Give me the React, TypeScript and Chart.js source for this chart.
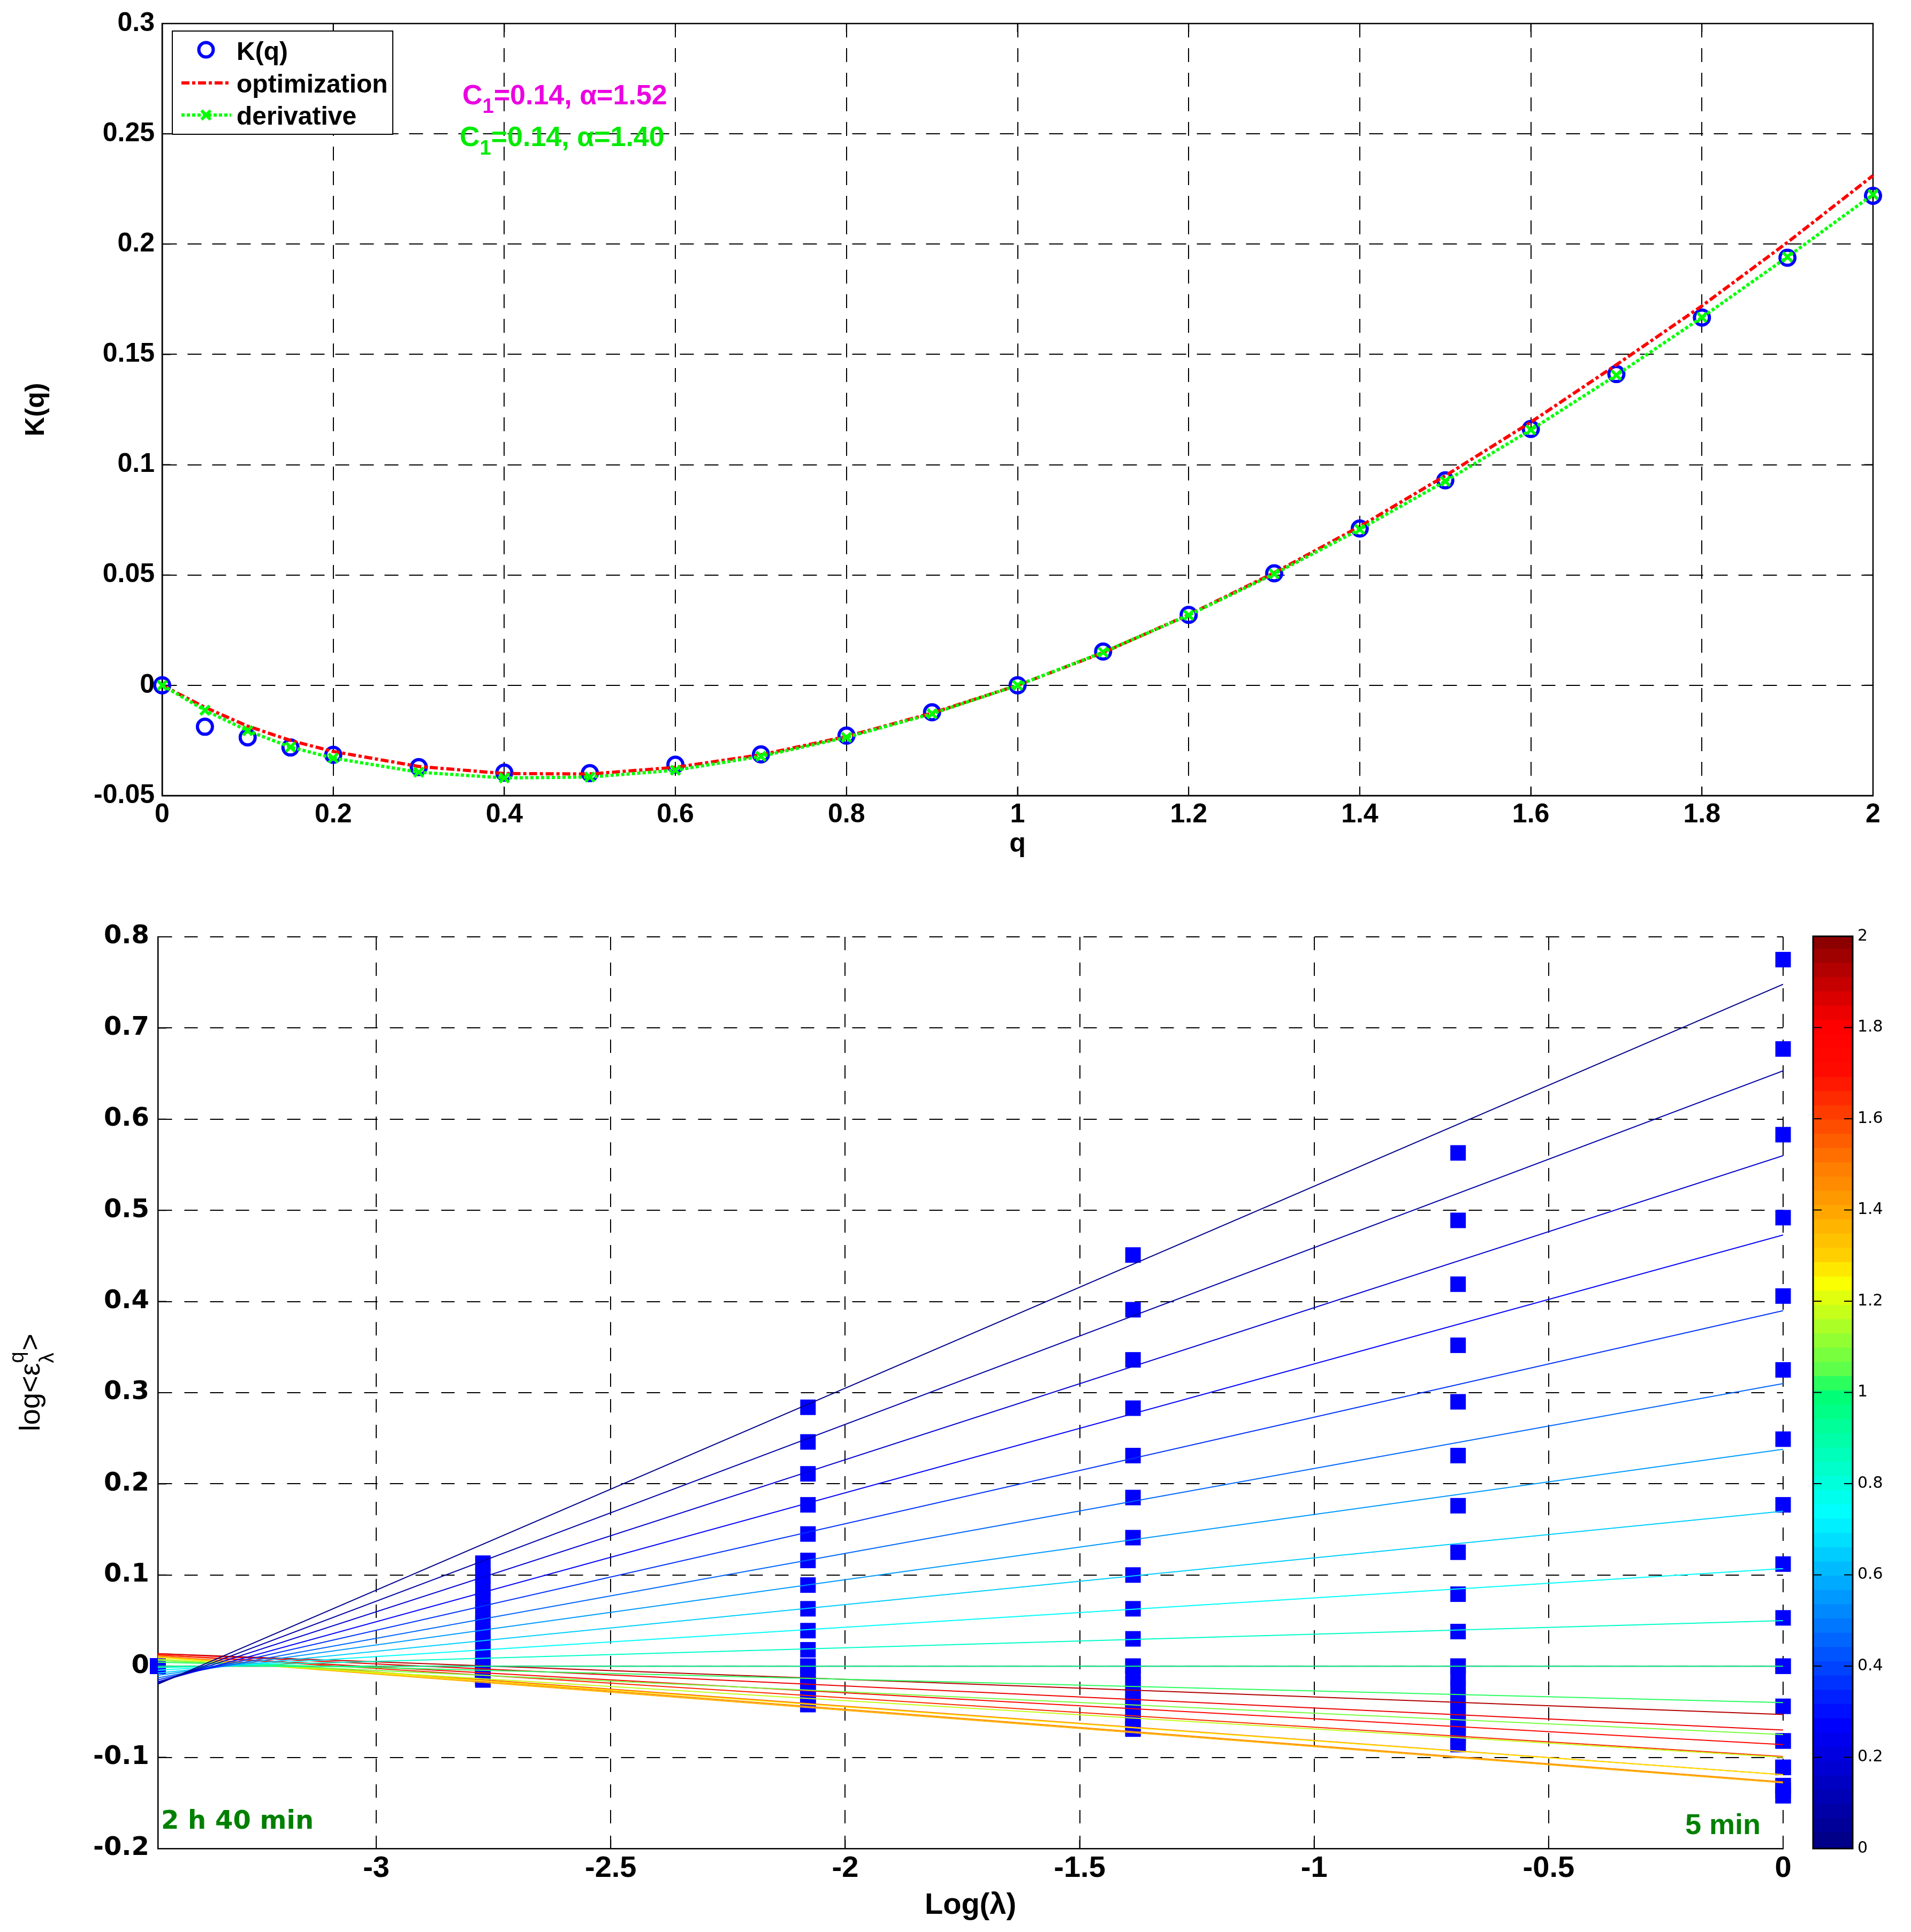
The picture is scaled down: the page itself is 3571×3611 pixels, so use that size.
import React, { useEffect, useRef } from 'react';
import { Chart, registerables } from 'chart.js';

Chart.register(...registerables);

// ---------------- Top panel: K(q) ----------------
const qValues = [0, 0.05, 0.1, 0.15, 0.2, 0.3, 0.4, 0.5, 0.6, 0.7, 0.8, 0.9, 1.0, 1.1, 1.2, 1.3, 1.4, 1.5, 1.6, 1.7, 1.8, 1.9, 2.0];
const kMeasured = [0, -0.0188, -0.0236, -0.0282, -0.0315, -0.0371, -0.0396, -0.0398, -0.036, -0.0313, -0.0228, -0.0122, 0, 0.0153, 0.0319, 0.0508, 0.0711, 0.0929, 0.1162, 0.1411, 0.1667, 0.1938, 0.2219];
const kOptimization = [0, -0.01, -0.0185, -0.025, -0.03, -0.0368, -0.04, -0.0402, -0.0372, -0.0315, -0.0232, -0.0126, 0, 0.0148, 0.032, 0.051, 0.072, 0.095, 0.1193, 0.1453, 0.172, 0.2008, 0.2311];
const kDerivative = [0, -0.0113, -0.0206, -0.028, -0.033, -0.0394, -0.042, -0.0416, -0.0385, -0.0322, -0.0236, -0.0129, 0, 0.015, 0.0318, 0.0505, 0.0707, 0.0925, 0.1158, 0.1406, 0.1668, 0.1942, 0.2225];

const topXTicks = [0, 0.2, 0.4, 0.6, 0.8, 1, 1.2, 1.4, 1.6, 1.8, 2];
const topXTickLabels = ['0', '0.2', '0.4', '0.6', '0.8', '1', '1.2', '1.4', '1.6', '1.8', '2'];
const topYTicks = [-0.05, 0, 0.05, 0.1, 0.15, 0.2, 0.25, 0.3];
const topYTickLabels = ['-0.05', '0', '0.05', '0.1', '0.15', '0.2', '0.25', '0.3'];

// ---------------- Bottom panel: moments vs scale ----------------
const logLambda = [-3.4657, -2.7726, -2.0794, -1.3863, -0.6931, 0];
// one array per scale column, values listed in qValues order
const momentsCol1 = [0, 0, 0, 0, 0, 0, 0, 0, 0, 0, 0, 0, 0, 0, 0, 0, 0, 0, 0, 0, 0, 0, 0];
const momentsCol2 = [0, -0.004, -0.007, -0.009, -0.011, -0.013, -0.015, -0.015, -0.013, -0.01, -0.006, -0.003, 0, 0.007, 0.016, 0.026, 0.036, 0.047, 0.059, 0.072, 0.085, 0.099, 0.113];
const momentsCol3 = [0, -0.012, -0.019, -0.025, -0.031, -0.038, -0.042, -0.042, -0.038, -0.03, -0.02, -0.008, 0, 0.018, 0.039, 0.063, 0.089, 0.116, 0.145, 0.177, 0.211, 0.246, 0.284];
const momentsCol4 = [0, -0.019, -0.03, -0.04, -0.05, -0.061, -0.068, -0.069, -0.062, -0.049, -0.033, -0.013, 0, 0.03, 0.063, 0.1, 0.141, 0.185, 0.231, 0.283, 0.336, 0.391, 0.451];
const momentsCol5 = [0, -0.024, -0.038, -0.05, -0.062, -0.076, -0.085, -0.086, -0.078, -0.063, -0.043, -0.013, 0, 0.038, 0.079, 0.125, 0.176, 0.231, 0.29, 0.352, 0.419, 0.489, 0.563];
const momentsCol6 = [0, -0.082, -0.111, -0.111, -0.131, -0.136, -0.142, -0.142, -0.131, -0.111, -0.082, -0.044, 0, 0.053, 0.112, 0.177, 0.249, 0.325, 0.406, 0.492, 0.583, 0.677, 0.775];
const momentColumns = [momentsCol1, momentsCol2, momentsCol3, momentsCol4, momentsCol5, momentsCol6];

// fitted regression lines: value at the coarsest scale and at the finest scale
const fitAtLeft = [0, 0.0137, 0.0137, 0.0125, 0.0125, 0.0111, 0.0111, 0.0098, 0.0098, 0.0078, 0.0063, 0.0043, 0, -0.0016, -0.0045, -0.0075, -0.01, -0.0128, -0.015, -0.017, -0.018, -0.019, -0.0197];
const fitAtRight = [0, -0.053, -0.07, -0.086, -0.099, -0.119, -0.127, -0.128, -0.119, -0.1, -0.075, -0.04, 0, 0.05, 0.107, 0.17, 0.238, 0.31, 0.39, 0.473, 0.56, 0.653, 0.748];
const lineColorLevel = [2.0, 1.909, 1.818, 1.727, 1.636, 1.545, 1.455, 1.364, 1.273, 1.182, 1.091, 1.0, 0.909, 0.818, 0.727, 0.636, 0.545, 0.455, 0.364, 0.273, 0.182, 0.091, 0];

const botXTicks = [-3, -2.5, -2, -1.5, -1, -0.5, 0];
const botXTickLabels = ['-3', '-2.5', '-2', '-1.5', '-1', '-0.5', '0'];
const botYTicks = [-0.2, -0.1, 0, 0.1, 0.2, 0.3, 0.4, 0.5, 0.6, 0.7, 0.8];
const botYTickLabels = ['-0.2', '-0.1', '0', '0.1', '0.2', '0.3', '0.4', '0.5', '0.6', '0.7', '0.8'];

const cbTicks = [0, 0.2, 0.4, 0.6, 0.8, 1, 1.2, 1.4, 1.6, 1.8, 2];
const cbTickLabels = ['0', '0.2', '0.4', '0.6', '0.8', '1', '1.2', '1.4', '1.6', '1.8', '2'];
const cmapStops = [
  [0, 0, 0, 130],
  [0.27, 0, 0, 255],
  [0.73, 0, 255, 255],
  [1.0, 0, 255, 110],
  [1.03, 80, 255, 80],
  [1.24, 255, 255, 0],
  [1.29, 255, 210, 0],
  [1.5, 255, 120, 0],
  [1.7, 255, 10, 0],
  [1.8, 255, 0, 0],
  [2.0, 130, 0, 0],
];
const cmapBands = 64;

const FONT_SANS = '"Liberation Sans", Arial, Helvetica, sans-serif';
const FONT_WIDE = '"DejaVu Sans", Verdana, sans-serif';

function interpColor(v: number): string {
  for (let i = 0; i < cmapStops.length - 1; i++) {
    const a = cmapStops[i];
    const b = cmapStops[i + 1];
    if (v >= a[0] && v <= b[0]) {
      const t = (v - a[0]) / (b[0] - a[0]);
      const r = Math.round(a[1] + (b[1] - a[1]) * t);
      const g = Math.round(a[2] + (b[2] - a[2]) * t);
      const bl = Math.round(a[3] + (b[3] - a[3]) * t);
      return `rgb(${r},${g},${bl})`;
    }
  }
  const l = cmapStops[cmapStops.length - 1];
  return `rgb(${l[1]},${l[2]},${l[3]})`;
}
function bandColor(v: number): string {
  const band = Math.min(cmapBands - 1, Math.max(0, Math.floor((v / 2) * cmapBands)));
  return interpColor(((band + 0.5) * 2) / cmapBands);
}

const topDecor = {
  id: 'topDecor',
  beforeDatasetsDraw(chart: any) {
    const { ctx, chartArea: a, scales } = chart;
    ctx.save();
    ctx.setLineDash([]);
    ctx.strokeStyle = '#000';
    ctx.lineWidth = 2.5;
    ctx.strokeRect(a.left, a.top, a.right - a.left, a.bottom - a.top);
    ctx.lineWidth = 2;
    ctx.beginPath();
    for (const v of topXTicks) {
      const px = scales.x.getPixelForValue(v);
      ctx.moveTo(px, a.bottom);
      ctx.lineTo(px, a.bottom - 16);
      ctx.moveTo(px, a.top);
      ctx.lineTo(px, a.top + 16);
    }
    for (const v of topYTicks) {
      const py = scales.y.getPixelForValue(v);
      ctx.moveTo(a.left, py);
      ctx.lineTo(a.left + 16, py);
      ctx.moveTo(a.right, py);
      ctx.lineTo(a.right - 16, py);
    }
    ctx.stroke();
    ctx.restore();
  },
  afterDraw(chart: any) {
    const { ctx, chartArea: a } = chart;
    ctx.save();
    ctx.fillStyle = '#000';
    ctx.textBaseline = 'alphabetic';
    // axis titles
    ctx.font = `bold 50px ${FONT_SANS}`;
    ctx.textAlign = 'center';
    ctx.fillText('q', (a.left + a.right) / 2, 1592);
    ctx.save();
    ctx.translate(82, (a.top + a.bottom) / 2);
    ctx.rotate(-Math.PI / 2);
    ctx.fillText('K(q)', 0, 0);
    ctx.restore();

    // legend
    const lx = 322, ly = 58, lw = 412, lh = 193;
    ctx.fillStyle = '#fff';
    ctx.fillRect(lx, ly, lw, lh);
    ctx.strokeStyle = '#000';
    ctx.lineWidth = 2;
    ctx.setLineDash([]);
    ctx.strokeRect(lx, ly, lw, lh);
    // row 1: circle
    ctx.strokeStyle = '#0000ff';
    ctx.lineWidth = 6;
    ctx.beginPath();
    ctx.arc(385, 93, 13.5, 0, Math.PI * 2);
    ctx.stroke();
    // row 2: dash-dot red
    ctx.strokeStyle = '#ff0000';
    ctx.setLineDash([15, 5, 6, 5]);
    ctx.beginPath();
    ctx.moveTo(339, 155);
    ctx.lineTo(432, 155);
    ctx.stroke();
    // row 3: dotted green with x
    ctx.strokeStyle = '#00ff00';
    ctx.setLineDash([6, 4]);
    ctx.beginPath();
    ctx.moveTo(339, 215);
    ctx.lineTo(432, 215);
    ctx.stroke();
    ctx.setLineDash([]);
    ctx.beginPath();
    ctx.moveTo(385 - 8.5, 215 - 8.5);
    ctx.lineTo(385 + 8.5, 215 + 8.5);
    ctx.moveTo(385 + 8.5, 215 - 8.5);
    ctx.lineTo(385 - 8.5, 215 + 8.5);
    ctx.stroke();
    ctx.fillStyle = '#000';
    ctx.textAlign = 'left';
    ctx.font = `bold 48px ${FONT_SANS}`;
    ctx.fillText('K(q)', 442, 112);
    ctx.fillText('optimization', 442, 173);
    ctx.fillText('derivative', 442, 233);

    // annotations
    const drawParam = (x: number, base: number, color: string, rest: string) => {
      ctx.fillStyle = color;
      ctx.font = `bold 52px ${FONT_SANS}`;
      ctx.fillText('C', x, base);
      let cx = x + ctx.measureText('C').width;
      ctx.font = `bold 38px ${FONT_SANS}`;
      ctx.fillText('1', cx, base + 16);
      cx += ctx.measureText('1').width;
      ctx.font = `bold 52px ${FONT_SANS}`;
      ctx.fillText(rest, cx, base);
    };
    drawParam(864, 195, 'rgb(235,0,225)', '=0.14, \u03b1=1.52');
    drawParam(859, 273, 'rgb(0,235,0)', '=0.14, \u03b1=1.40');
    ctx.restore();
  },
};

const bottomDecor = {
  id: 'bottomDecor',
  beforeDatasetsDraw(chart: any) {
    const { ctx, chartArea: a, scales } = chart;
    ctx.save();
    ctx.setLineDash([]);
    ctx.strokeStyle = '#000';
    ctx.lineWidth = 2;
    ctx.beginPath();
    for (const v of botXTicks) {
      const px = scales.x.getPixelForValue(v);
      ctx.moveTo(px, a.bottom);
      ctx.lineTo(px, a.bottom - 16);
    }
    for (const v of botYTicks) {
      const py = scales.y.getPixelForValue(v);
      ctx.moveTo(a.left, py);
      ctx.lineTo(a.left + 16, py);
    }
    ctx.stroke();
    ctx.restore();
  },
  afterDraw(chart: any) {
    const { ctx, chartArea: a } = chart;
    ctx.save();
    ctx.textBaseline = 'alphabetic';
    ctx.fillStyle = '#000';
    ctx.font = `bold 56px ${FONT_SANS}`;
    ctx.textAlign = 'center';
    ctx.fillText('Log(\u03bb)', (a.left + a.right) / 2, 1877);

    // rotated y label  log<eps^q_lambda>
    ctx.save();
    ctx.translate(74, 884);
    ctx.rotate(-Math.PI / 2);
    ctx.textAlign = 'left';
    const mainF = `54px ${FONT_SANS}`;
    const smallF = `38px ${FONT_SANS}`;
    ctx.font = mainF;
    const w1 = ctx.measureText('log<\u03b5').width;
    const w3 = ctx.measureText('>').width;
    ctx.font = smallF;
    const ws = Math.max(ctx.measureText('q').width, ctx.measureText('\u03bb').width) + 2;
    let x = -(w1 + ws + w3) / 2;
    ctx.font = mainF;
    ctx.fillText('log<\u03b5', x, 0);
    x += w1;
    ctx.font = smallF;
    ctx.fillText('q', x, -30);
    ctx.fillText('\u03bb', x, 26);
    x += ws;
    ctx.font = mainF;
    ctx.fillText('>', x, 0);
    ctx.restore();

    // scale annotations
    ctx.fillStyle = '#008000';
    ctx.textAlign = 'left';
    ctx.font = `bold 48px ${FONT_WIDE}`;
    ctx.fillText('2 h 40 min', 301, 1718);
    ctx.textAlign = 'right';
    ctx.font = `bold 54px ${FONT_SANS}`;
    ctx.fillText('5 min', 3290, 1728);
    ctx.restore();
  },
};

const colorbarDecor = {
  id: 'colorbarDecor',
  afterDatasetsDraw(chart: any) {
    const { ctx, chartArea: a, scales } = chart;
    ctx.save();
    ctx.setLineDash([]);
    ctx.strokeStyle = '#000';
    ctx.lineWidth = 2;
    ctx.beginPath();
    for (const v of cbTicks) {
      if (v <= 0 || v >= 2) continue;
      const py = scales.y.getPixelForValue(v);
      ctx.moveTo(a.left, py);
      ctx.lineTo(a.left + 16, py);
      ctx.moveTo(a.right, py);
      ctx.lineTo(a.right - 16, py);
    }
    ctx.stroke();
    ctx.lineWidth = 3;
    ctx.strokeRect(a.left, a.top, a.right - a.left, a.bottom - a.top);
    ctx.restore();
  },
};

export default function App() {
  const topRef = useRef<HTMLCanvasElement>(null);
  const botRef = useRef<HTMLCanvasElement>(null);
  const cbRef = useRef<HTMLCanvasElement>(null);

  useEffect(() => {
    const charts: Chart[] = [];

    // ---------- top chart ----------
    const toXY = (ys: number[]) => qValues.map((q, i) => ({ x: q, y: ys[i] }));
    const topChart = new Chart(topRef.current as HTMLCanvasElement, {
      type: 'scatter',
      data: {
        datasets: [
          {
            label: 'derivative',
            data: toXY(kDerivative),
            showLine: true,
            borderColor: '#00ff00',
            borderWidth: 6,
            borderDash: [6, 4],
            pointStyle: 'crossRot',
            pointRadius: 12,
            pointBorderColor: '#00ff00',
            pointBorderWidth: 5.5,
            pointBackgroundColor: '#00ff00',
            order: 0,
            clip: false,
          } as any,
          {
            label: 'optimization',
            data: toXY(kOptimization),
            showLine: true,
            borderColor: '#ff0000',
            borderWidth: 6,
            borderDash: [15, 5, 6, 5],
            pointRadius: 0,
            order: 1,
            clip: false,
          } as any,
          {
            label: 'K(q)',
            data: toXY(kMeasured),
            showLine: false,
            pointStyle: 'circle',
            pointRadius: 14,
            pointBorderWidth: 6,
            pointBorderColor: '#0000ff',
            pointBackgroundColor: 'rgba(0,0,0,0)',
            order: 2,
            clip: false,
          } as any,
        ],
      },
      options: {
        animation: false,
        responsive: false,
        maintainAspectRatio: false,
        devicePixelRatio: 1,
        events: [],
        layout: { padding: { left: 0, top: 42, right: 71, bottom: 0 } },
        plugins: { legend: { display: false }, tooltip: { enabled: false } },
        scales: {
          x: {
            type: 'linear',
            min: 0,
            max: 2,
            afterBuildTicks: (s: any) => {
              s.ticks = topXTicks.map((v) => ({ value: v }));
            },
            afterFit: (s: any) => {
              s.height = 213;
            },
            ticks: {
              autoSkip: false,
              maxRotation: 0,
              padding: 6,
              color: '#000',
              font: { family: FONT_SANS, size: 50, weight: 'bold' },
              callback: (_v: any, i: number) => topXTickLabels[i],
            },
            grid: { color: '#000', lineWidth: 2, drawTicks: false },
            border: { display: true, color: '#000', width: 2.5, dash: [26, 20] },
          },
          y: {
            type: 'linear',
            min: -0.05,
            max: 0.3,
            afterBuildTicks: (s: any) => {
              s.ticks = topYTicks.map((v) => ({ value: v }));
            },
            afterFit: (s: any) => {
              s.width = 303;
            },
            ticks: {
              autoSkip: false,
              padding: 14,
              color: '#000',
              font: { family: FONT_SANS, size: 50, weight: 'bold' },
              callback: (_v: any, i: number) => topYTickLabels[i],
            },
            grid: { color: '#000', lineWidth: 2, drawTicks: false },
            border: { display: true, color: '#000', width: 2.5, dash: [26, 20] },
          },
        },
      } as any,
      plugins: [topDecor],
    });
    charts.push(topChart);

    // ---------- bottom chart ----------
    const lineDatasets = qValues.map((q, i) => ({
      label: 'fit q=' + q,
      data: [
        { x: logLambda[0], y: fitAtLeft[i] },
        { x: logLambda[logLambda.length - 1], y: fitAtRight[i] },
      ],
      showLine: true,
      borderColor: bandColor(lineColorLevel[i]),
      borderWidth: 2,
      pointRadius: 0,
      order: 100 - i,
    }));
    const pointData: { x: number; y: number }[] = [];
    momentColumns.forEach((col, j) => {
      col.forEach((v) => pointData.push({ x: logLambda[j], y: v }));
    });
    const pointsDataset = {
      label: 'moments',
      data: pointData,
      showLine: false,
      pointStyle: 'rect',
      pointRadius: 20.5,
      pointBackgroundColor: '#0000ff',
      pointBorderWidth: 0,
      pointBorderColor: '#0000ff',
      order: 200,
      clip: false,
    };
    const botChart = new Chart(botRef.current as HTMLCanvasElement, {
      type: 'scatter',
      data: { datasets: [...lineDatasets, pointsDataset] as any },
      options: {
        animation: false,
        responsive: false,
        maintainAspectRatio: false,
        devicePixelRatio: 1,
        events: [],
        layout: { padding: { left: 0, top: 51, right: 48, bottom: 0 } },
        plugins: { legend: { display: false }, tooltip: { enabled: false } },
        scales: {
          x: {
            type: 'linear',
            min: logLambda[0],
            max: 0,
            afterBuildTicks: (s: any) => {
              s.ticks = botXTicks.map((v) => ({ value: v }));
            },
            afterFit: (s: any) => {
              s.height = 156;
            },
            ticks: {
              autoSkip: false,
              maxRotation: 0,
              padding: 4,
              color: '#000',
              font: { family: FONT_SANS, size: 56, weight: 'bold' },
              callback: (_v: any, i: number) => botXTickLabels[i],
            },
            grid: { color: '#000', lineWidth: 2, drawTicks: false },
            border: { display: true, color: '#000', width: 2.5, dash: [25, 23] },
          },
          y: {
            type: 'linear',
            min: -0.2,
            max: 0.8,
            afterBuildTicks: (s: any) => {
              s.ticks = botYTicks.map((v) => ({ value: v }));
            },
            afterFit: (s: any) => {
              s.width = 295;
            },
            ticks: {
              autoSkip: false,
              padding: 16,
              color: '#000',
              font: { family: FONT_WIDE, size: 48, weight: 'bold' },
              callback: (_v: any, i: number) => botYTickLabels[i],
            },
            grid: { color: '#000', lineWidth: 2, drawTicks: false },
            border: { display: true, color: '#000', width: 2.5, dash: [25, 23] },
          },
        },
      } as any,
      plugins: [bottomDecor],
    });
    charts.push(botChart);

    // ---------- colorbar ----------
    const cbDatasets = Array.from({ length: cmapBands }, (_, i) => ({
      label: 'band' + i,
      data: [[(i * 2) / cmapBands, ((i + 1) * 2) / cmapBands + 0.004]],
      backgroundColor: interpColor(((i + 0.5) * 2) / cmapBands),
      borderWidth: 0,
      barPercentage: 1,
      categoryPercentage: 1,
      grouped: false,
    }));
    const cbChart = new Chart(cbRef.current as HTMLCanvasElement, {
      type: 'bar',
      data: { labels: ['cb'], datasets: cbDatasets as any },
      options: {
        animation: false,
        responsive: false,
        maintainAspectRatio: false,
        devicePixelRatio: 1,
        events: [],
        layout: { padding: { left: 8, top: 50, right: 0, bottom: 156 } },
        plugins: { legend: { display: false }, tooltip: { enabled: false } },
        scales: {
          x: { type: 'category', display: false },
          y: {
            type: 'linear',
            position: 'right',
            min: 0,
            max: 2,
            afterBuildTicks: (s: any) => {
              s.ticks = cbTicks.map((v) => ({ value: v }));
            },
            afterFit: (s: any) => {
              s.width = 109;
            },
            ticks: {
              autoSkip: false,
              padding: 9,
              color: '#000',
              font: { family: FONT_WIDE, size: 30 },
              callback: (_v: any, i: number) => cbTickLabels[i],
            },
            grid: { display: false, drawTicks: false },
            border: { display: false },
          },
        },
      } as any,
      plugins: [colorbarDecor],
    });
    charts.push(cbChart);

    return () => {
      charts.forEach((c) => c.destroy());
    };
  }, []);

  return (
    <div style={{ position: 'absolute', left: 0, top: 0, width: 3571, height: 3611, background: '#fff', overflow: 'hidden' }}>
      <canvas ref={topRef} width={3571} height={1700} style={{ position: 'absolute', left: 0, top: 0, width: 3571, height: 1700 }} />
      <canvas ref={botRef} width={3380} height={1911} style={{ position: 'absolute', left: 0, top: 1700, width: 3380, height: 1911 }} />
      <canvas ref={cbRef} width={191} height={1911} style={{ position: 'absolute', left: 3380, top: 1700, width: 191, height: 1911 }} />
    </div>
  );
}
